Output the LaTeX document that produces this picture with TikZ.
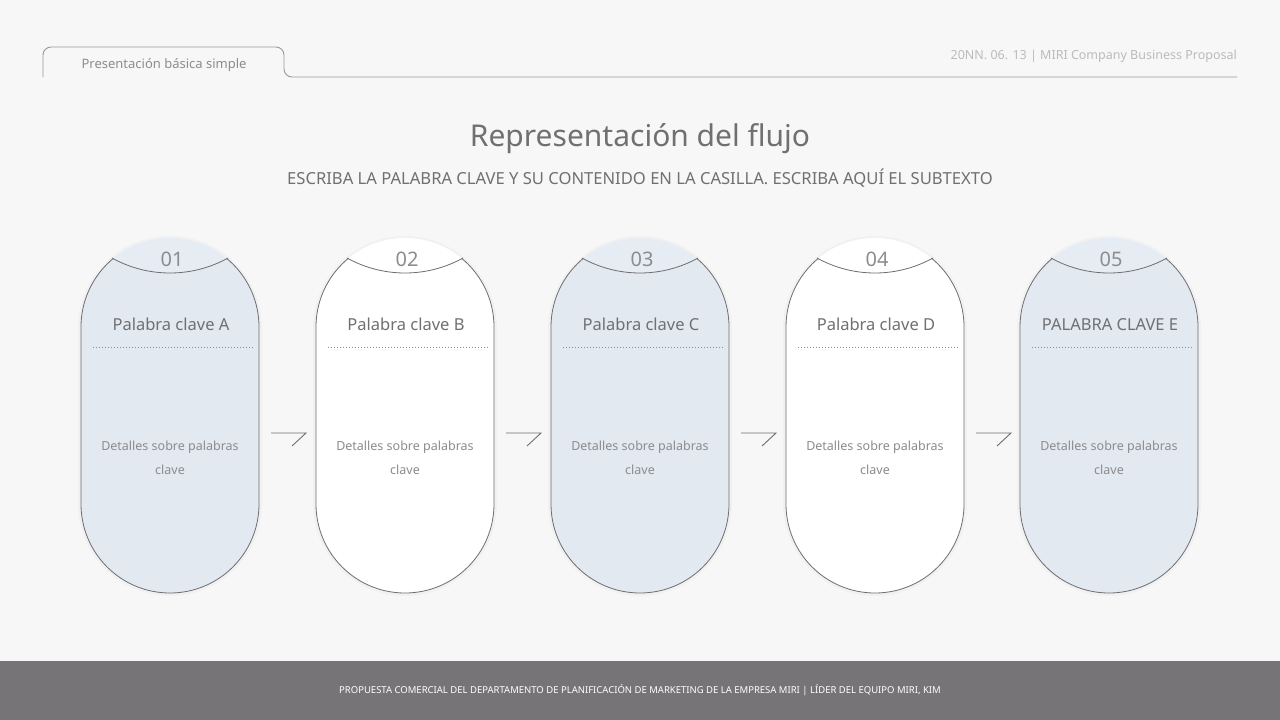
\documentclass[tikz,border=0pt]{standalone}
\usepackage{fontspec}
\setmainfont{Noto Sans}
\definecolor{bg}{HTML}{F7F7F8}
\definecolor{cardblue}{HTML}{E2E9F1}
\definecolor{capblue}{HTML}{E6ECF3}
\definecolor{outline}{HTML}{6E6E70}
\definecolor{txt}{HTML}{707072}
\definecolor{lighttxt}{HTML}{8C8C8E}
\definecolor{hdrtxt}{HTML}{BBBBBD}
\definecolor{footer}{HTML}{767477}
\tikzset{
  fs/.style n args={2}{font=\fontsize{#1}{#2}\selectfont},
  numtxt/.style={fs={20}{24}, text=lighttxt, inner sep=0pt, anchor=base},
  keytxt/.style={fs={16.5}{20}, text=txt, inner sep=0pt, anchor=base},
  dettxt/.style={fs={12.5}{24}, text=lighttxt, inner sep=0pt, anchor=base},
  cardline/.style={draw=outline, line width=0.8pt},
  arrowline/.style={draw=outline, line width=0.9pt},
}
\begin{document}
\begin{tikzpicture}[x=1pt,y=-1pt]
\useasboundingbox (0,0) rectangle (1280,720);
\fill[bg] (0,0) rectangle (1280,720);
% footer
\fill[footer] (0,661) rectangle (1280,720);
\node[fs={9.5}{11}, text=white, inner sep=0pt, anchor=base] (foot) at (640,693.5) {PROPUESTA COMERCIAL DEL DEPARTAMENTO DE PLANIFICACIÓN DE MARKETING DE LA EMPRESA MIRI | LÍDER DEL EQUIPO MIRI, KIM};
% header
\draw[draw=black!40, line width=0.9pt, rounded corners=8pt] (43,77) -- (43,47) -- (284,47) -- (284,77) -- (1237,77);
\node[fs={13}{15}, text=lighttxt, inner sep=0pt, anchor=base] (tab) at (164,68.5) {Presentación básica simple};
\node[fs={12.5}{15}, text=hdrtxt, inner sep=0pt, anchor=base east] (date) at (1237,59.5) {20NN. 06. 13 | MIRI Company Business Proposal};
% title
\node[fs={30}{34}, text=txt, inner sep=0pt, anchor=base] (title) at (640,146) {Representación del flujo};
\node[fs={16.6}{18}, text=txt, inner sep=0pt, anchor=base] (sub) at (640,184) {ESCRIBA LA PALABRA CLAVE Y SU CONTENIDO EN LA CASILLA. ESCRIBA AQUÍ EL SUBTEXTO};
% cards
\foreach \i/\cx/\body/\cap/\key in {
  1/170/cardblue/capblue/Palabra clave A,
  2/405/white/white/Palabra clave B,
  3/640/cardblue/capblue/Palabra clave C,
  4/875/white/white/Palabra clave D,
  5/1109/cardblue/capblue/PALABRA CLAVE E}{
  \pgfmathsetmacro{\L}{\cx-89}
  \pgfmathsetmacro{\R}{\cx+89}
  \pgfmathsetmacro{\A}{\cx-58}
  \pgfmathsetmacro{\B}{\cx+58}
  \pgfmathsetmacro{\Ac}{\cx-22}
  \pgfmathsetmacro{\Bc}{\cx+22}
  % soft glow
  \fill[black, opacity=0.025, rounded corners=92pt] (\L-3,236) rectangle (\R+3,596);
  \fill[\cap, rounded corners=89pt] (\L,238) rectangle (\R,593);
  \begin{scope}
    \clip (\L-5,258) -- (\A,258) .. controls (\Ac,278) and (\Bc,278) .. (\B,258) -- (\R+5,258) -- (\R+5,600) -- (\L-5,600) -- cycle;
    \fill[\body, rounded corners=89pt] (\L,238) rectangle (\R,593);
    \draw[cardline, rounded corners=89pt] (\L,238) rectangle (\R,593);
  \end{scope}
  \draw[cardline] (\A,258) .. controls (\Ac,278) and (\Bc,278) .. (\B,258);
  \node[numtxt] (num\i) at (\cx+2,266) {0\i};
  \node[keytxt] (key\i) at (\cx+1,330.5) {\key};
  \draw[draw=lighttxt, line width=0.9pt, dash pattern=on 0.9pt off 2.1pt] (\L+12,347) -- (\R-6,347);
  \node[dettxt] (det\i) at (\cx,450) {Detalles sobre palabras};
  \node[dettxt] (detb\i) at (\cx,474) {clave};
}
% arrows
\foreach \j/\cx in {1/170,2/405,3/640,4/875}{
  \coordinate (as\j) at (\cx+101,433);
  \coordinate (am\j) at (\cx+136,433);
  \coordinate (ae\j) at (\cx+122,446);
  \draw[arrowline] (as\j) -- (am\j) -- (ae\j);
}
\end{tikzpicture}
\end{document}
